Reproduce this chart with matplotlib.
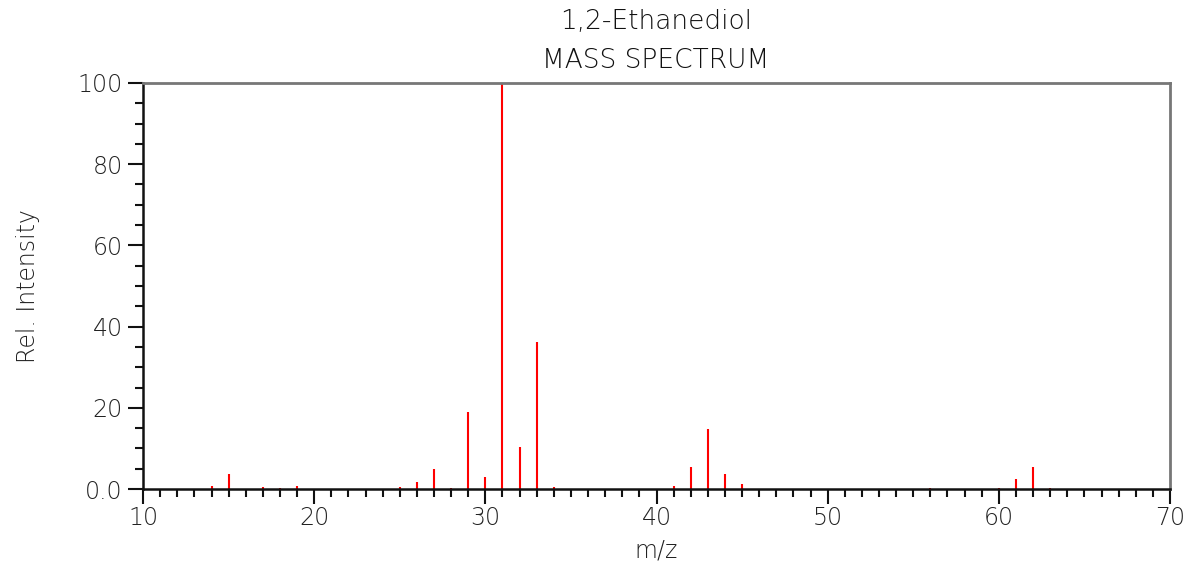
import matplotlib
matplotlib.use('Agg')
import matplotlib.pyplot as plt
from matplotlib.ticker import MultipleLocator, FixedLocator, FixedFormatter

plt.rc('font', family='DejaVu Sans', weight='light')
plt.rc('axes', labelweight='light')

# ethylene glycol EI spectrum, relative intensities
mz = [14, 15, 17, 18, 19, 25, 26, 27, 28, 29, 30, 31, 32, 33, 34,
      41, 42, 43, 44, 45, 56, 60, 61, 62, 63]
intensity = [0.8, 3.7, 0.4, 0.2, 0.8, 0.4, 1.7, 5.0, 0.2, 18.9, 2.9, 100.0, 10.3, 36.2, 0.6,
             0.85, 5.5, 14.8, 3.8, 1.3, 0.2, 0.2, 2.5, 5.5, 0.2]

ytick_vals = [0, 20, 40, 60, 80, 100]
ytick_text = ['0.0', '20', '40', '60', '80', '100']

fig = plt.figure(figsize=(11.9, 5.63), dpi=100)
ax = fig.add_axes([0.1202, 0.1314, 0.8630, 0.7212])

ax.vlines(mz, 0, intensity, colors='#ff0000', linewidth=1.5)

ax.set_xlim(10, 70)
ax.set_ylim(0, 100)

ax.xaxis.set_major_locator(MultipleLocator(10))
ax.xaxis.set_minor_locator(MultipleLocator(1))
ax.yaxis.set_major_locator(FixedLocator(ytick_vals))
ax.yaxis.set_major_formatter(FixedFormatter(ytick_text))
ax.yaxis.set_minor_locator(MultipleLocator(5))

ax.tick_params(axis='both', which='major', direction='out', length=11, width=1.5,
               labelsize=17, labelcolor='#222222', color='#111111')
ax.tick_params(axis='both', which='minor', direction='out', length=6, width=1.5,
               color='#111111')
ax.tick_params(axis='x', which='major', pad=1)

for side in ['left', 'bottom']:
    ax.spines[side].set_color('#111111')
    ax.spines[side].set_linewidth(1.8)
for side in ['top', 'right']:
    ax.spines[side].set_color('#777777')
    ax.spines[side].set_linewidth(2.0)

ax.set_xlabel('m/z', fontsize=17, fontweight='light', color='#222222', labelpad=6)
ax.set_ylabel('Rel. Intensity', fontsize=17, fontweight='light', color='#222222', labelpad=27)

fig.text(0.5513, 0.962, '1,2-Ethanediol', ha='center', va='center', fontsize=19, color='#111111')
fig.text(0.5513, 0.893, 'MASS SPECTRUM', ha='center', va='center', fontsize=19, color='#111111')

fig.savefig('out.png', dpi=100)
